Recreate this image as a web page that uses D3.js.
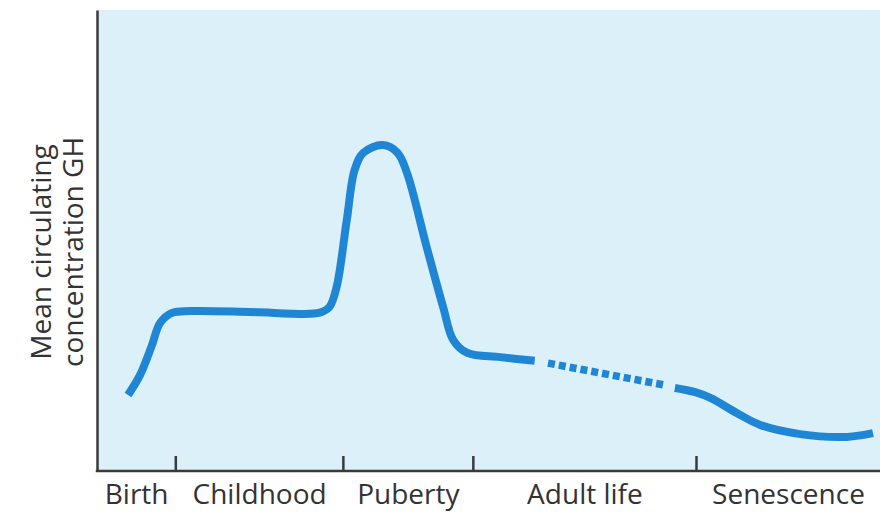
<!DOCTYPE html>
<html>
<head>
  <meta charset="utf-8">
  <title>GH over life</title>
  <style>
    body { margin: 0; background: #fff; }
  </style>
</head>
<body>
  <div id="chart"></div>

  <script src="https://d3js.org/d3.v7.min.js"></script>
  <script>
  // life phases along the bottom, and the tick boundaries between them
  var phases = ["Birth", "Childhood", "Puberty", "Adult life", "Senescence"];
  var bounds = [0, 10, 31.4, 48, 76.5, 100];

  // mean GH curve (arbitrary units 0-100)
  var solidX1 = [3.96, 5.49, 7.02, 8.05, 9.58, 11.9, 19.5, 27.2, 28.7, 29.7, 30.6, 31.9, 32.9, 34.0, 36.5, 38.4, 39.6, 42.1, 44.2, 45.5, 47.3, 51.5, 55.9];
  var solidY1 = [16.5, 20.8, 27.3, 32.1, 34.3, 34.7, 34.5, 34.1, 34.5, 35.6, 39.9, 54.4, 65.3, 69.0, 70.7, 69.0, 64.6, 48.6, 35.6, 28.4, 25.6, 24.7, 23.9];
  var dashX = [57.6, 72.3];
  var dashY = [23.4, 18.7];
  var solidX2 = [73.8, 76.4, 78.4, 81.7, 84.7, 89.8, 95.8, 99.1];
  var solidY2 = [18.0, 17.1, 15.8, 12.6, 10.0, 8.0, 7.4, 8.2];

  var W = 888, H = 515;
  var margin = {top: 10, right: 8, bottom: 44, left: 97},
      width  = W - margin.left - margin.right,
      height = H - margin.top - margin.bottom;

  var font = "'Open Sans', Lato, sans-serif";

  var svg = d3.select("#chart").append("svg")
      .attr("width", W)
      .attr("height", H)
      .style("font-family", font);

  var g = svg.append("g")
      .attr("transform", "translate(" + margin.left + "," + margin.top + ")");

  var x = d3.scaleLinear().domain([0, 100]).range([0, width]);
  var y = d3.scaleLinear().domain([0, 100]).range([height, 0]);

  g.append("rect")
      .attr("width", width)
      .attr("height", height)
      .attr("fill", "#dcf0fa");

  function pts(xs, ys) { return xs.map(function(d, i){ return [d, ys[i]]; }); }

  var line = d3.line()
      .x(function(d){ return x(d[0]); })
      .y(function(d){ return y(d[1]); })
      .curve(d3.curveCatmullRom);

  var blue = "#1f86d6";

  g.append("path")
      .attr("d", line(pts(solidX1, solidY1)))
      .attr("fill", "none").attr("stroke", blue).attr("stroke-width", 8);

  g.append("path")
      .attr("d", line(pts(dashX, dashY)))
      .attr("fill", "none").attr("stroke", blue).attr("stroke-width", 7.5)
      .attr("stroke-dasharray", "7,4");

  g.append("path")
      .attr("d", line(pts(solidX2, solidY2)))
      .attr("fill", "none").attr("stroke", blue).attr("stroke-width", 8);

  // x axis: boundary ticks pointing up, no numbers
  var xAxis = g.append("g")
      .attr("transform", "translate(0," + height + ")")
      .call(d3.axisBottom(x)
        .tickValues(bounds.slice(1, 5))
        .tickSizeInner(-15)
        .tickSizeOuter(0)
        .tickFormat(""));
  xAxis.selectAll("path, line").attr("stroke", "#3a3a3a").attr("stroke-width", 2.5);
  xAxis.select(".domain").attr("d", "M-1.25,0H" + width);

  // phase labels centred in each band
  var mids = phases.map(function(p, i){ return (bounds[i] + bounds[i + 1]) / 2; });
  var lab = g.append("g")
      .attr("transform", "translate(0," + height + ")")
      .call(d3.axisBottom(x)
        .tickValues(mids)
        .tickSize(0)
        .tickPadding(13)
        .tickFormat(function(d, i){ return phases[i]; }));
  lab.select(".domain").remove();
  lab.selectAll("text")
      .attr("font-size", 28)
      .attr("font-family", font)
      .attr("fill", "#333");

  // y axis: plain line
  var yAxis = g.append("g")
      .call(d3.axisLeft(y).tickValues([]).tickSizeOuter(0));
  yAxis.select(".domain").attr("stroke", "#3a3a3a").attr("stroke-width", 2.5);

  var yl = svg.append("text")
      .attr("transform", "translate(51,252) rotate(-90)")
      .attr("text-anchor", "middle")
      .attr("font-size", 28)
      .attr("fill", "#333");
  yl.append("tspan").attr("x", 0).attr("dy", 0).text("Mean circulating");
  yl.append("tspan").attr("x", 0).attr("dy", 32).text("concentration GH");
  </script>
</body>
</html>
